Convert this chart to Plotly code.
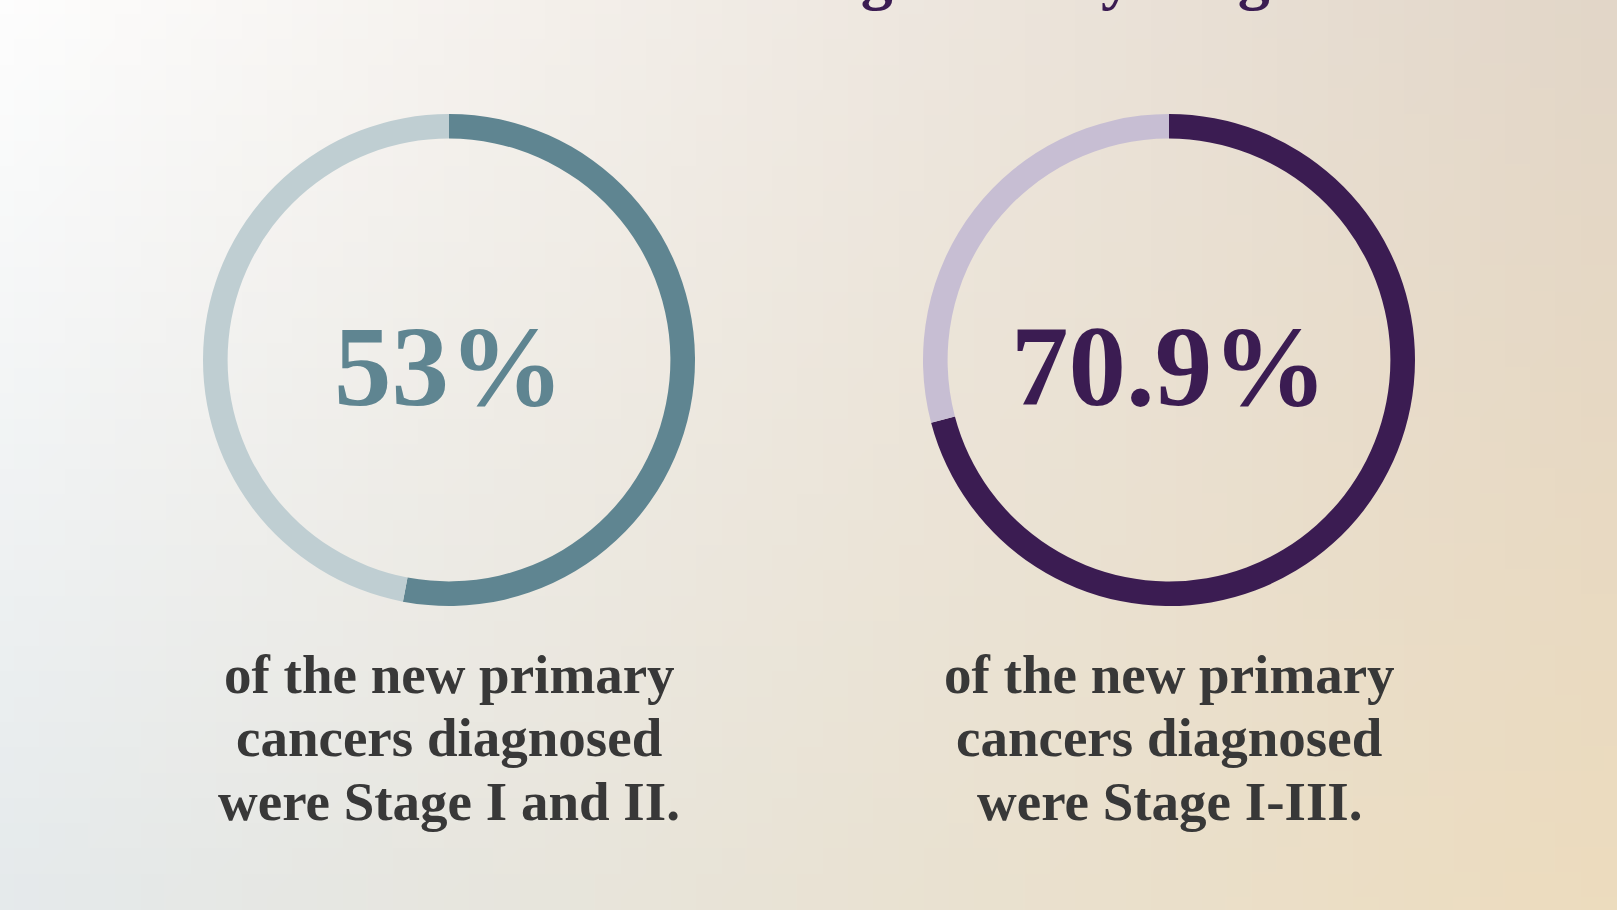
import base64
import struct
import zlib

import numpy as np
import plotly.graph_objects as go

# values
stages = ["Stage I and II", "Stage I-III"]
share_early = [53, 70.9]
share_rest = [47, 29.1]
share_labels = ["53%", "70.9%"]
captions = [
    ["of the new primary", "cancers diagnosed", "were Stage I and II."],
    ["of the new primary", "cancers diagnosed", "were Stage I-III."],
]
title_text = "New Cancers Diagnosed by Stage"

dark_colors = ["#5f8591", "#3b1c52"]
light_colors = ["#bfced2", "#c7bed3"]
caption_color = "#383838"
serif = "Liberation Serif"

W, H = 1617, 910
centers_x = [449, 1169]
center_y = 360
radius = 246


def gradient_png(w, h):
    # soft four-corner wash used as the page background
    tl = np.array([254, 254, 254])
    tr = np.array([226, 214, 200])
    bl = np.array([229, 234, 236])
    br = np.array([237, 220, 190])
    u = (np.arange(w) + 0.5) / w
    v = (np.arange(h) + 0.5) / h
    uu, vv = np.meshgrid(u, v)
    img = (tl * ((1 - uu) * (1 - vv))[..., None] + tr * (uu * (1 - vv))[..., None]
           + bl * ((1 - uu) * vv)[..., None] + br * (uu * vv)[..., None])
    img = img.clip(0, 255).astype(np.uint8)
    raw = b"".join(b"\x00" + row.tobytes() for row in img)

    def chunk(tag, data):
        c = struct.pack(">I", len(data)) + tag + data
        return c + struct.pack(">I", zlib.crc32(tag + data) & 0xffffffff)

    png = b"\x89PNG\r\n\x1a\n"
    png += chunk(b"IHDR", struct.pack(">IIBBBBB", w, h, 8, 2, 0, 0, 0))
    png += chunk(b"IDAT", zlib.compress(raw, 9))
    png += chunk(b"IEND", b"")
    return "data:image/png;base64," + base64.b64encode(png).decode()


fig = go.Figure()

for i in range(len(stages)):
    cx = centers_x[i]
    fig.add_trace(go.Pie(
        values=[share_early[i], share_rest[i]],
        labels=[stages[i], "Other"],
        sort=False,
        direction="clockwise",
        rotation=0,
        hole=0.9,
        marker=dict(colors=[dark_colors[i], light_colors[i]], line=dict(width=0)),
        textinfo="none",
        hoverinfo="skip",
        showlegend=False,
        domain=dict(x=[(cx - radius) / W, (cx + radius) / W],
                    y=[(H - center_y - radius) / H, (H - center_y + radius) / H]),
    ))

    fig.add_annotation(
        x=cx / W, y=(H - 366) / H, xref="paper", yref="paper",
        text=share_labels[i], showarrow=False, xanchor="center", yanchor="middle",
        font=dict(family=serif, size=115, color=dark_colors[i], weight=700),
    )

    for j, line in enumerate(captions[i]):
        fig.add_annotation(
            x=cx / W, y=(H - (674 + 63.5 * j)) / H, xref="paper", yref="paper",
            text=line, showarrow=False, xanchor="center", yanchor="middle",
            font=dict(family=serif, size=55, color=caption_color, weight=700),
        )

# title sits above the top edge, only its descenders show (as in the source)
fig.add_annotation(
    x=386 / W, y=(H - 13) / H, xref="paper", yref="paper",
    text=title_text, showarrow=False, xanchor="left", yanchor="bottom",
    font=dict(family=serif, size=64, color="#3b1c52", weight=700),
)

fig.add_layout_image(
    source=gradient_png(64, 36), xref="paper", yref="paper",
    x=0, y=1, sizex=1, sizey=1, xanchor="left", yanchor="top",
    sizing="stretch", layer="below",
)

fig.update_layout(
    width=W, height=H,
    margin=dict(l=0, r=0, t=0, b=0),
    paper_bgcolor="#f0ece6",
    plot_bgcolor="rgba(0,0,0,0)",
)

fig.write_html("out.html", config={"displayModeBar": False},
               post_script="document.body.style.margin='0';document.body.style.overflow='hidden';")
